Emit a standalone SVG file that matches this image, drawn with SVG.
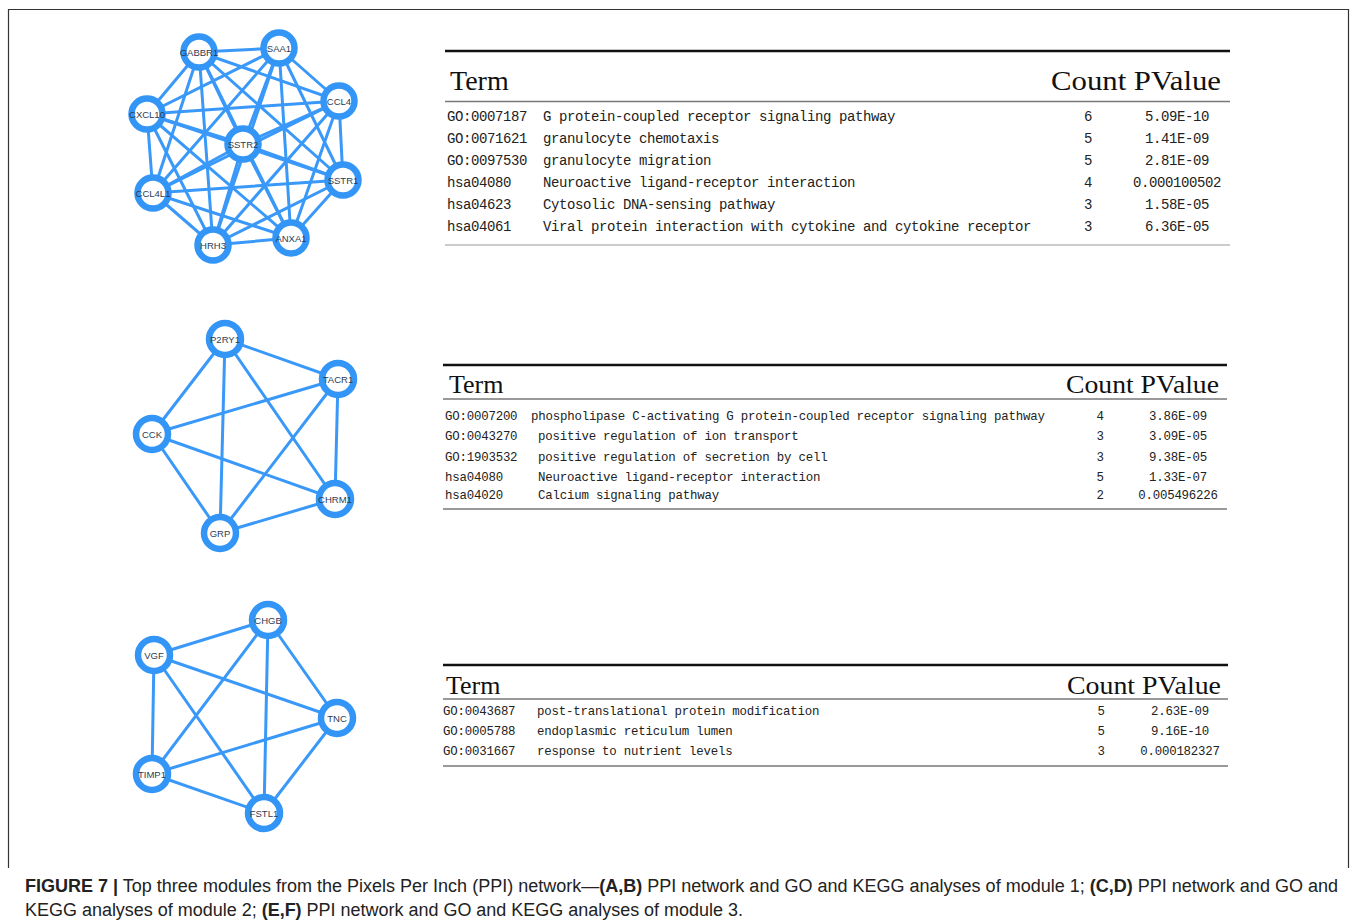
<svg xmlns="http://www.w3.org/2000/svg" width="1357" height="924" viewBox="0 0 1357 924">
  <style>
    .edge { stroke: #3a99f8; stroke-width: 3; stroke-linecap: round; fill: none; }
    .node circle { fill: #ffffff; stroke: #3396f6; stroke-width: 6.5; }
    .node text { font-family: "Liberation Sans", Arial, sans-serif; font-size: 9.5px; fill: #2b3b55; text-anchor: middle; }
    .rule-top { stroke: #111; stroke-width: 2.5; }
    .rule { stroke: #777; stroke-width: 1.5; }
    .rule-light { stroke: #bbb; stroke-width: 1.5; }
    .hdr { font-family: "Liberation Serif", "Times New Roman", serif; fill: #111; }
    .h1 { font-size: 28px; }
    .h2 { font-size: 26px; }
    .row { font-family: "Liberation Mono", "Courier New", monospace; fill: #222; }
    .r1 { font-size: 14px; letter-spacing: -0.4px; }
    .r2 { font-size: 12.4px; letter-spacing: -0.2px; }
    .mid { text-anchor: middle; }
    .cap { font-family: "Liberation Sans", Arial, sans-serif; font-size: 18px; fill: #222; }
    .b { font-weight: bold; }
  </style>

  <rect x="0" y="0" width="1357" height="924" fill="#ffffff"/>
  <!-- figure frame -->
  <path d="M8.5,868 V9.5 H1348.5 V868" fill="none" stroke="#333" stroke-width="1.2"/>

  <!-- ===== Module 1 network ===== -->
  <g id="net1-connectors">
    <!-- GABBR1 -->
    <line class="edge" x1="199" y1="52" x2="279" y2="48"/>
    <line class="edge" x1="199" y1="52" x2="339" y2="101"/>
    <line class="edge" x1="199" y1="52" x2="147" y2="114"/>
    <line class="edge" x1="199" y1="52" x2="243" y2="144"/>
    <line class="edge" x1="199" y1="52" x2="343" y2="180"/>
    <line class="edge" x1="199" y1="52" x2="153" y2="193"/>
    <line class="edge" x1="199" y1="52" x2="213" y2="245"/>
    <line class="edge" x1="199" y1="52" x2="291" y2="238"/>
    <!-- SAA1 -->
    <line class="edge" x1="279" y1="48" x2="339" y2="101"/>
    <line class="edge" x1="279" y1="48" x2="147" y2="114"/>
    <line class="edge" x1="279" y1="48" x2="243" y2="144" stroke-width="4"/>
    <line class="edge" x1="279" y1="48" x2="343" y2="180"/>
    <line class="edge" x1="279" y1="48" x2="153" y2="193"/>
    <line class="edge" x1="279" y1="48" x2="213" y2="245"/>
    <line class="edge" x1="279" y1="48" x2="291" y2="238"/>
    <!-- CCL4 -->
    <line class="edge" x1="339" y1="101" x2="147" y2="114"/>
    <line class="edge" x1="339" y1="101" x2="243" y2="144" stroke-width="4"/>
    <line class="edge" x1="339" y1="101" x2="343" y2="180"/>
    <line class="edge" x1="339" y1="101" x2="153" y2="193"/>
    <line class="edge" x1="339" y1="101" x2="213" y2="245"/>
    <line class="edge" x1="339" y1="101" x2="291" y2="238"/>
    <!-- CXCL10 -->
    <line class="edge" x1="147" y1="114" x2="243" y2="144"/>
    <line class="edge" x1="147" y1="114" x2="343" y2="180"/>
    <line class="edge" x1="147" y1="114" x2="153" y2="193"/>
    <line class="edge" x1="147" y1="114" x2="213" y2="245"/>
    <line class="edge" x1="147" y1="114" x2="291" y2="238"/>
    <!-- SSTR2 -->
    <line class="edge" x1="243" y1="144" x2="343" y2="180"/>
    <line class="edge" x1="243" y1="144" x2="153" y2="193" stroke-width="4"/>
    <line class="edge" x1="243" y1="144" x2="213" y2="245" stroke-width="4"/>
    <line class="edge" x1="243" y1="144" x2="291" y2="238"/>
    <!-- SSTR1 -->
    <line class="edge" x1="343" y1="180" x2="153" y2="193"/>
    <line class="edge" x1="343" y1="180" x2="213" y2="245"/>
    <line class="edge" x1="343" y1="180" x2="291" y2="238"/>
    <!-- CCL4L1 -->
    <line class="edge" x1="153" y1="193" x2="213" y2="245"/>
    <line class="edge" x1="153" y1="193" x2="291" y2="238"/>
    <!-- HRH3 -->
    <line class="edge" x1="213" y1="245" x2="291" y2="238"/>
  </g>
  <g id="net1-nodes">
    <g class="node" id="n-GABBR1"><circle cx="199" cy="52" r="15.5"/><text x="199" y="55.5">GABBR1</text></g>
    <g class="node" id="n-SAA1"><circle cx="279" cy="48" r="15.5"/><text x="279" y="51.5">SAA1</text></g>
    <g class="node" id="n-CCL4"><circle cx="339" cy="101" r="15.5"/><text x="339" y="104.5">CCL4</text></g>
    <g class="node" id="n-CXCL10"><circle cx="147" cy="114" r="15.5"/><text x="147" y="117.5">CXCL10</text></g>
    <g class="node" id="n-SSTR2"><circle cx="243" cy="144" r="15.5"/><text x="243" y="147.5">SSTR2</text></g>
    <g class="node" id="n-SSTR1"><circle cx="343" cy="180" r="15.5"/><text x="343" y="183.5">SSTR1</text></g>
    <g class="node" id="n-CCL4L1"><circle cx="153" cy="193" r="15.5"/><text x="153" y="196.5">CCL4L1</text></g>
    <g class="node" id="n-HRH3"><circle cx="213" cy="245" r="15.5"/><text x="213" y="248.5">HRH3</text></g>
    <g class="node" id="n-ANXA1"><circle cx="291" cy="238" r="15.5"/><text x="291" y="241.5">ANXA1</text></g>
  </g>

  <!-- ===== Module 2 network ===== -->
  <g id="net2-connectors">
    <line class="edge" x1="225" y1="339" x2="338" y2="379"/>
    <line class="edge" x1="225" y1="339" x2="152" y2="434"/>
    <line class="edge" x1="225" y1="339" x2="335" y2="499"/>
    <line class="edge" x1="225" y1="339" x2="220" y2="533"/>
    <line class="edge" x1="338" y1="379" x2="152" y2="434"/>
    <line class="edge" x1="338" y1="379" x2="335" y2="499"/>
    <line class="edge" x1="338" y1="379" x2="220" y2="533"/>
    <line class="edge" x1="152" y1="434" x2="335" y2="499"/>
    <line class="edge" x1="152" y1="434" x2="220" y2="533"/>
    <line class="edge" x1="335" y1="499" x2="220" y2="533"/>
  </g>
  <g id="net2-nodes">
    <g class="node" id="n-P2RY1"><circle cx="225" cy="339" r="16"/><text x="225" y="342.5">P2RY1</text></g>
    <g class="node" id="n-TACR1"><circle cx="338" cy="379" r="16"/><text x="338" y="382.5">TACR1</text></g>
    <g class="node" id="n-CCK"><circle cx="152" cy="434" r="16"/><text x="152" y="437.5">CCK</text></g>
    <g class="node" id="n-CHRM1"><circle cx="335" cy="499" r="16"/><text x="335" y="502.5">CHRM1</text></g>
    <g class="node" id="n-GRP"><circle cx="220" cy="533" r="16"/><text x="220" y="536.5">GRP</text></g>
  </g>

  <!-- ===== Module 3 network ===== -->
  <g id="net3-connectors">
    <line class="edge" x1="154" y1="655" x2="268" y2="620"/>
    <line class="edge" x1="154" y1="655" x2="337" y2="718"/>
    <line class="edge" x1="154" y1="655" x2="152" y2="774"/>
    <line class="edge" x1="154" y1="655" x2="264" y2="813"/>
    <line class="edge" x1="268" y1="620" x2="337" y2="718"/>
    <line class="edge" x1="268" y1="620" x2="152" y2="774"/>
    <line class="edge" x1="268" y1="620" x2="264" y2="813"/>
    <line class="edge" x1="337" y1="718" x2="152" y2="774"/>
    <line class="edge" x1="337" y1="718" x2="264" y2="813"/>
    <line class="edge" x1="152" y1="774" x2="264" y2="813"/>
  </g>
  <g id="net3-nodes">
    <g class="node" id="n-CHGB"><circle cx="268" cy="620" r="16"/><text x="268" y="623.5">CHGB</text></g>
    <g class="node" id="n-VGF"><circle cx="154" cy="655" r="16"/><text x="154" y="658.5">VGF</text></g>
    <g class="node" id="n-TNC"><circle cx="337" cy="718" r="16"/><text x="337" y="721.5">TNC</text></g>
    <g class="node" id="n-TIMP1"><circle cx="152" cy="774" r="16"/><text x="152" y="777.5">TIMP1</text></g>
    <g class="node" id="n-FSTL1"><circle cx="264" cy="813" r="16"/><text x="264" y="816.5">FSTL1</text></g>
  </g>

  <!-- ===== Module 1 enrichment table ===== -->
  <g id="table1">
    <line class="rule-top" x1="445" y1="51" x2="1230" y2="51"/>
    <text class="hdr h1" x="450" y="90">Term</text>
    <text class="hdr h1" x="1051" y="90" textLength="170" lengthAdjust="spacingAndGlyphs">Count PValue</text>
    <line class="rule" x1="445" y1="101.5" x2="1230" y2="101.5"/>
    <g class="row r1">
      <text x="447" y="120.5">GO:0007187</text>
      <text x="543" y="120.5">G protein-coupled receptor signaling pathway</text>
      <text class="mid" x="1088" y="120.5">6</text>
      <text class="mid" x="1177" y="120.5">5.09E-10</text>

      <text x="447" y="142.5">GO:0071621</text>
      <text x="543" y="142.5">granulocyte chemotaxis</text>
      <text class="mid" x="1088" y="142.5">5</text>
      <text class="mid" x="1177" y="142.5">1.41E-09</text>

      <text x="447" y="164.5">GO:0097530</text>
      <text x="543" y="164.5">granulocyte migration</text>
      <text class="mid" x="1088" y="164.5">5</text>
      <text class="mid" x="1177" y="164.5">2.81E-09</text>

      <text x="447" y="186.5">hsa04080</text>
      <text x="543" y="186.5">Neuroactive ligand-receptor interaction</text>
      <text class="mid" x="1088" y="186.5">4</text>
      <text class="mid" x="1177" y="186.5">0.000100502</text>

      <text x="447" y="208.5">hsa04623</text>
      <text x="543" y="208.5">Cytosolic DNA-sensing pathway</text>
      <text class="mid" x="1088" y="208.5">3</text>
      <text class="mid" x="1177" y="208.5">1.58E-05</text>

      <text x="447" y="230.5">hsa04061</text>
      <text x="543" y="230.5">Viral protein interaction with cytokine and cytokine receptor</text>
      <text class="mid" x="1088" y="230.5">3</text>
      <text class="mid" x="1177" y="230.5">6.36E-05</text>
    </g>
    <line class="rule-light" x1="445" y1="245" x2="1230" y2="245"/>
  </g>

  <!-- ===== Module 2 enrichment table ===== -->
  <g id="table2">
    <line class="rule-top" x1="443" y1="365" x2="1227" y2="365"/>
    <text class="hdr h2" x="449" y="393">Term</text>
    <text class="hdr h2" x="1066" y="393" textLength="153" lengthAdjust="spacingAndGlyphs">Count PValue</text>
    <line class="rule" x1="443" y1="399" x2="1227" y2="399"/>
    <g class="row r2">
      <text x="445" y="420">GO:0007200</text>
      <text x="531" y="420">phospholipase C-activating G protein-coupled receptor signaling pathway</text>
      <text class="mid" x="1100" y="420">4</text>
      <text class="mid" x="1178" y="420">3.86E-09</text>

      <text x="445" y="440">GO:0043270</text>
      <text x="538" y="440">positive regulation of ion transport</text>
      <text class="mid" x="1100" y="440">3</text>
      <text class="mid" x="1178" y="440">3.09E-05</text>

      <text x="445" y="460.5">GO:1903532</text>
      <text x="538" y="460.5">positive regulation of secretion by cell</text>
      <text class="mid" x="1100" y="460.5">3</text>
      <text class="mid" x="1178" y="460.5">9.38E-05</text>

      <text x="445" y="480.5">hsa04080</text>
      <text x="538" y="480.5">Neuroactive ligand-receptor interaction</text>
      <text class="mid" x="1100" y="480.5">5</text>
      <text class="mid" x="1178" y="480.5">1.33E-07</text>

      <text x="445" y="499">hsa04020</text>
      <text x="538" y="499">Calcium signaling pathway</text>
      <text class="mid" x="1100" y="499">2</text>
      <text class="mid" x="1178" y="499">0.005496226</text>
    </g>
    <line class="rule" x1="443" y1="509" x2="1227" y2="509"/>
  </g>

  <!-- ===== Module 3 enrichment table ===== -->
  <g id="table3">
    <line class="rule-top" x1="443" y1="665" x2="1228" y2="665"/>
    <text class="hdr h2" x="446" y="694">Term</text>
    <text class="hdr h2" x="1067" y="694" textLength="154" lengthAdjust="spacingAndGlyphs">Count PValue</text>
    <line class="rule" x1="443" y1="699" x2="1228" y2="699"/>
    <g class="row r2">
      <text x="443" y="714.5">GO:0043687</text>
      <text x="537" y="714.5">post-translational protein modification</text>
      <text class="mid" x="1101" y="714.5">5</text>
      <text class="mid" x="1180" y="714.5">2.63E-09</text>

      <text x="443" y="734.5">GO:0005788</text>
      <text x="537" y="734.5">endoplasmic reticulum lumen</text>
      <text class="mid" x="1101" y="734.5">5</text>
      <text class="mid" x="1180" y="734.5">9.16E-10</text>

      <text x="443" y="754.5">GO:0031667</text>
      <text x="537" y="754.5">response to nutrient levels</text>
      <text class="mid" x="1101" y="754.5">3</text>
      <text class="mid" x="1180" y="754.5">0.000182327</text>
    </g>
    <line class="rule" x1="443" y1="766" x2="1228" y2="766"/>
  </g>

  <!-- ===== Caption ===== -->
  <g id="caption">
    <text class="cap" x="25" y="892" textLength="1313" lengthAdjust="spacingAndGlyphs"><tspan class="b">FIGURE 7 |</tspan> Top three modules from the Pixels Per Inch (PPI) network—<tspan class="b">(A,B)</tspan> PPI network and GO and KEGG analyses of module 1; <tspan class="b">(C,D)</tspan> PPI network and GO and</text>
    <text class="cap" x="25" y="916" textLength="718" lengthAdjust="spacingAndGlyphs">KEGG analyses of module 2; <tspan class="b">(E,F)</tspan> PPI network and GO and KEGG analyses of module 3.</text>
  </g>
</svg>
